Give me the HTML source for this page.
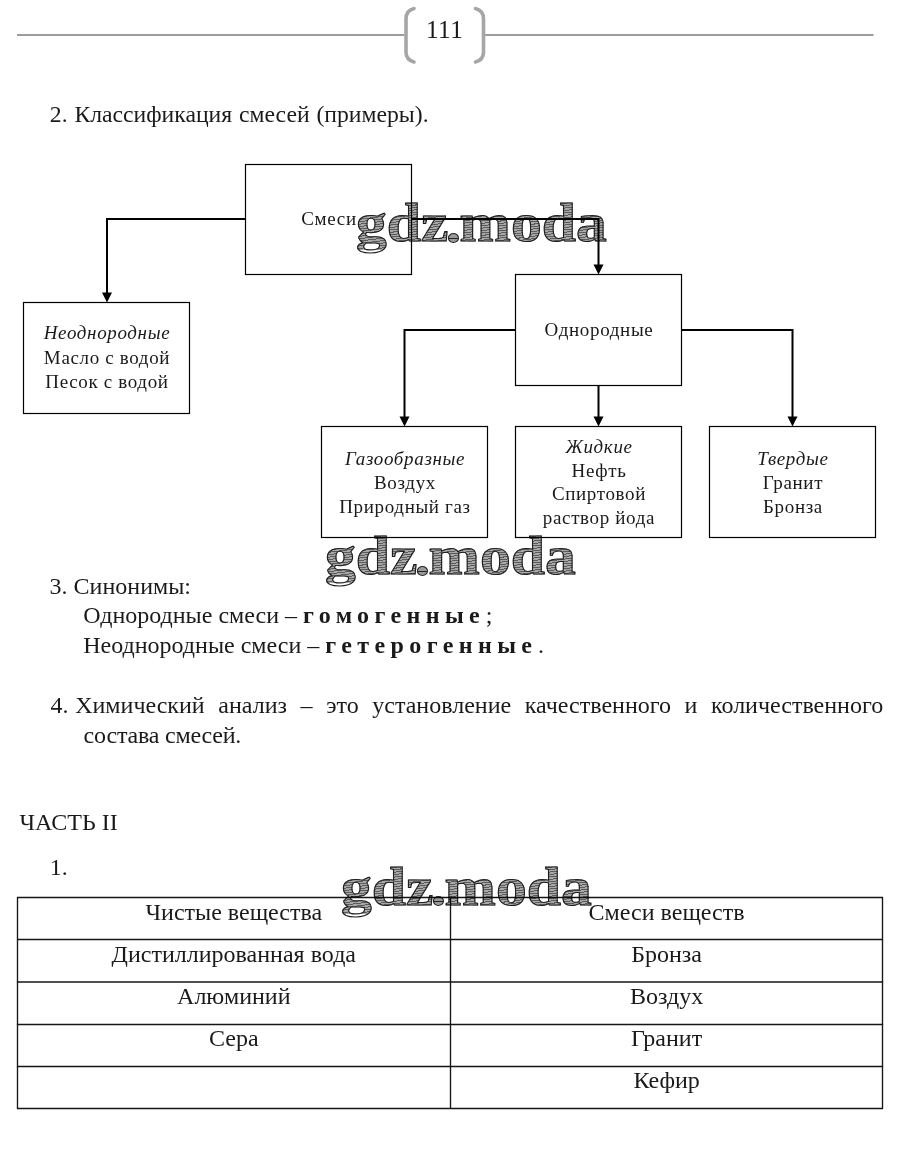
<!DOCTYPE html>
<html><head><meta charset="utf-8"><style>
html,body{margin:0;padding:0;background:#fff;}
body{width:897px;height:1161px;position:relative;overflow:hidden;font-family:"Liberation Serif",serif;color:#1a1a1a;}
.t{position:absolute;white-space:pre;}
.t i{font-style:italic;}
.sp{letter-spacing:5.4px;font-weight:bold;}
.just{text-align:justify;text-align-last:justify;white-space:normal;}
svg{position:absolute;left:0;top:0;}
.wm{position:absolute;white-space:pre;font-family:"Liberation Serif";font-weight:bold;font-size:55px;line-height:55px;letter-spacing:0px;transform:scaleX(1.12);transform-origin:0 0;color:transparent;background:repeating-linear-gradient(172deg,#5c5c5c 0px,#5c5c5c 1px,#a8a8a8 1px,#a8a8a8 2.4px);-webkit-background-clip:text;background-clip:text;-webkit-text-stroke:1px #1e1e1e;mix-blend-mode:multiply;}
.wm .dot{display:inline-block;width:8px;height:8px;border:1px solid #222;border-radius:50%;background:linear-gradient(#999 0,#999 45%,#222 45%,#222 60%,#999 60%);margin:0 1px 0 -1px;vertical-align:-1.5px;letter-spacing:0}
</style></head><body>
<svg width="897" height="1161" viewBox="0 0 897 1161">
<line x1="17" y1="35" x2="404.5" y2="35" stroke="#9c9c9c" stroke-width="2"/>
<line x1="484.5" y1="35" x2="873.5" y2="35" stroke="#9c9c9c" stroke-width="2"/>
<path d="M414,8.5 Q406,10.5 406,19 L406,52 Q406,60 414,62" fill="none" stroke="#a6a6a6" stroke-width="3.6" stroke-linecap="round"/>
<path d="M475.5,8.5 Q483.5,10.5 483.5,19 L483.5,52 Q483.5,60 475.5,62" fill="none" stroke="#a6a6a6" stroke-width="3.6" stroke-linecap="round"/>
<rect x="245.5" y="164.5" width="166.0" height="110.0" fill="none" stroke="#000" stroke-width="1.2"/>
<rect x="23.5" y="302.5" width="166.0" height="111.0" fill="none" stroke="#000" stroke-width="1.2"/>
<rect x="515.5" y="274.5" width="166.0" height="111.0" fill="none" stroke="#000" stroke-width="1.2"/>
<rect x="321.5" y="426.5" width="166.0" height="111.0" fill="none" stroke="#000" stroke-width="1.2"/>
<rect x="515.5" y="426.5" width="166.0" height="111.0" fill="none" stroke="#000" stroke-width="1.2"/>
<rect x="709.5" y="426.5" width="166.0" height="111.0" fill="none" stroke="#000" stroke-width="1.2"/>
<polyline points="245.5,219 107,219 107,293" fill="none" stroke="#000" stroke-width="2"/>
<path d="M102,292.5 L112,292.5 L107,302.5 Z" fill="#000"/>
<polyline points="411.5,219 598.5,219 598.5,265" fill="none" stroke="#000" stroke-width="2"/>
<path d="M593.5,264.5 L603.5,264.5 L598.5,274.5 Z" fill="#000"/>
<polyline points="515.5,330 404.5,330 404.5,417" fill="none" stroke="#000" stroke-width="2"/>
<path d="M399.5,416.5 L409.5,416.5 L404.5,426.5 Z" fill="#000"/>
<polyline points="681.5,330 792.5,330 792.5,417" fill="none" stroke="#000" stroke-width="2"/>
<path d="M787.5,416.5 L797.5,416.5 L792.5,426.5 Z" fill="#000"/>
<line x1="598.5" y1="385.5" x2="598.5" y2="417" stroke="#000" stroke-width="2"/>
<path d="M593.5,416.5 L603.5,416.5 L598.5,426.5 Z" fill="#000"/>
<line x1="16.9" y1="897.5" x2="883.1" y2="897.5" stroke="#151515" stroke-width="1.35"/>
<line x1="16.9" y1="939.5" x2="883.1" y2="939.5" stroke="#151515" stroke-width="1.35"/>
<line x1="16.9" y1="982.0" x2="883.1" y2="982.0" stroke="#151515" stroke-width="1.35"/>
<line x1="16.9" y1="1024.5" x2="883.1" y2="1024.5" stroke="#151515" stroke-width="1.35"/>
<line x1="16.9" y1="1066.5" x2="883.1" y2="1066.5" stroke="#151515" stroke-width="1.35"/>
<line x1="16.9" y1="1108.5" x2="883.1" y2="1108.5" stroke="#151515" stroke-width="1.35"/>
<line x1="17.5" y1="897.5" x2="17.5" y2="1108.5" stroke="#151515" stroke-width="1.35"/>
<line x1="882.5" y1="897.5" x2="882.5" y2="1108.5" stroke="#151515" stroke-width="1.35"/>
<line x1="450.5" y1="897.5" x2="450.5" y2="1108.5" stroke="#151515" stroke-width="1.35"/>
</svg>
<div class="t " style="left:425.90px;top:16.79px;font-size:25.2px;line-height:25.2px;letter-spacing:0.5px;">111</div>
<div class="t " style="left:49.80px;top:102.85px;font-size:23.7px;line-height:23.7px;word-spacing:0.9px;">2. Классификация смесей (примеры).</div>
<div class="t " style="left:28.50px;width:600px;text-align:center;top:208.59px;font-size:19px;line-height:19px;letter-spacing:0.65px;padding-left:0.5px;">Смеси</div>
<div class="t " style="left:-193.50px;width:600px;text-align:center;top:323.29px;font-size:19px;line-height:19px;letter-spacing:0.65px;padding-left:0.5px;"><i>Неоднородные</i></div>
<div class="t " style="left:-193.50px;width:600px;text-align:center;top:347.69px;font-size:19px;line-height:19px;letter-spacing:0.65px;padding-left:0.5px;">Масло с водой</div>
<div class="t " style="left:-193.50px;width:600px;text-align:center;top:371.79px;font-size:19px;line-height:19px;letter-spacing:0.65px;padding-left:0.5px;">Песок с водой</div>
<div class="t " style="left:298.50px;width:600px;text-align:center;top:319.89px;font-size:19px;line-height:19px;letter-spacing:0.65px;padding-left:0.5px;">Однородные</div>
<div class="t " style="left:104.50px;width:600px;text-align:center;top:448.79px;font-size:19px;line-height:19px;letter-spacing:0.65px;padding-left:0.5px;"><i>Газообразные</i></div>
<div class="t " style="left:104.50px;width:600px;text-align:center;top:472.69px;font-size:19px;line-height:19px;letter-spacing:0.65px;padding-left:0.5px;">Воздух</div>
<div class="t " style="left:104.50px;width:600px;text-align:center;top:496.79px;font-size:19px;line-height:19px;letter-spacing:0.65px;padding-left:0.5px;">Природный газ</div>
<div class="t " style="left:298.50px;width:600px;text-align:center;top:436.69px;font-size:19px;line-height:19px;letter-spacing:0.65px;padding-left:0.5px;"><i>Жидкие</i></div>
<div class="t " style="left:298.50px;width:600px;text-align:center;top:460.79px;font-size:19px;line-height:19px;letter-spacing:0.65px;padding-left:0.5px;">Нефть</div>
<div class="t " style="left:298.50px;width:600px;text-align:center;top:484.49px;font-size:19px;line-height:19px;letter-spacing:0.65px;padding-left:0.5px;">Спиртовой</div>
<div class="t " style="left:298.50px;width:600px;text-align:center;top:508.49px;font-size:19px;line-height:19px;letter-spacing:0.65px;padding-left:0.5px;">раствор йода</div>
<div class="t " style="left:492.50px;width:600px;text-align:center;top:448.69px;font-size:19px;line-height:19px;letter-spacing:0.65px;padding-left:0.5px;"><i>Твердые</i></div>
<div class="t " style="left:492.50px;width:600px;text-align:center;top:473.09px;font-size:19px;line-height:19px;letter-spacing:0.65px;padding-left:0.5px;">Гранит</div>
<div class="t " style="left:492.50px;width:600px;text-align:center;top:497.09px;font-size:19px;line-height:19px;letter-spacing:0.65px;padding-left:0.5px;">Бронза</div>
<div class="t " style="left:49.60px;top:573.90px;font-size:24px;line-height:24px;">3. Синонимы:</div>
<div class="t " style="left:83.20px;top:602.80px;font-size:24px;line-height:24px;">Однородные смеси – <b class="sp">гомогенны</b><b>е</b> ;</div>
<div class="t " style="left:83.20px;top:632.90px;font-size:24px;line-height:24px;">Неоднородные смеси – <b class="sp">гетерогенны</b><b>е</b> .</div>
<div class="t " style="left:50.40px;top:693.10px;font-size:24px;line-height:24px;">4.</div>
<div class="t just" style="left:75.20px;width:808.00px;top:693.10px;font-size:24px;line-height:24px;">Химический анализ – это установление качественного и количественного</div>
<div class="t " style="left:83.60px;top:722.50px;font-size:24px;line-height:24px;letter-spacing:-0.2px;">состава смесей.</div>
<div class="t " style="left:19.50px;top:810.30px;font-size:24px;line-height:24px;">ЧАСТЬ II</div>
<div class="t " style="left:49.80px;top:855.10px;font-size:24px;line-height:24px;">1.</div>
<div class="t " style="left:-66.20px;width:600px;text-align:center;top:900.20px;font-size:24px;line-height:24px;">Чистые вещества</div>
<div class="t " style="left:366.60px;width:600px;text-align:center;top:900.20px;font-size:24px;line-height:24px;">Смеси веществ</div>
<div class="t " style="left:-66.20px;width:600px;text-align:center;top:942.15px;font-size:24px;line-height:24px;">Дистиллированная вода</div>
<div class="t " style="left:366.60px;width:600px;text-align:center;top:942.15px;font-size:24px;line-height:24px;">Бронза</div>
<div class="t " style="left:-66.20px;width:600px;text-align:center;top:984.10px;font-size:24px;line-height:24px;">Алюминий</div>
<div class="t " style="left:366.60px;width:600px;text-align:center;top:984.10px;font-size:24px;line-height:24px;">Воздух</div>
<div class="t " style="left:-66.20px;width:600px;text-align:center;top:1026.05px;font-size:24px;line-height:24px;">Сера</div>
<div class="t " style="left:366.60px;width:600px;text-align:center;top:1026.05px;font-size:24px;line-height:24px;">Гранит</div>
<div class="t " style="left:366.60px;width:600px;text-align:center;top:1068.00px;font-size:24px;line-height:24px;">Кефир</div>
<div class="wm" style="left:356.2px;top:195.4px;">gdz<span class="dot"></span>moda</div>
<div class="wm" style="left:324.6px;top:528.2px;">gdz<span class="dot"></span>moda</div>
<div class="wm" style="left:340.8px;top:858.9px;">gdz<span class="dot"></span>moda</div>
</body></html>
